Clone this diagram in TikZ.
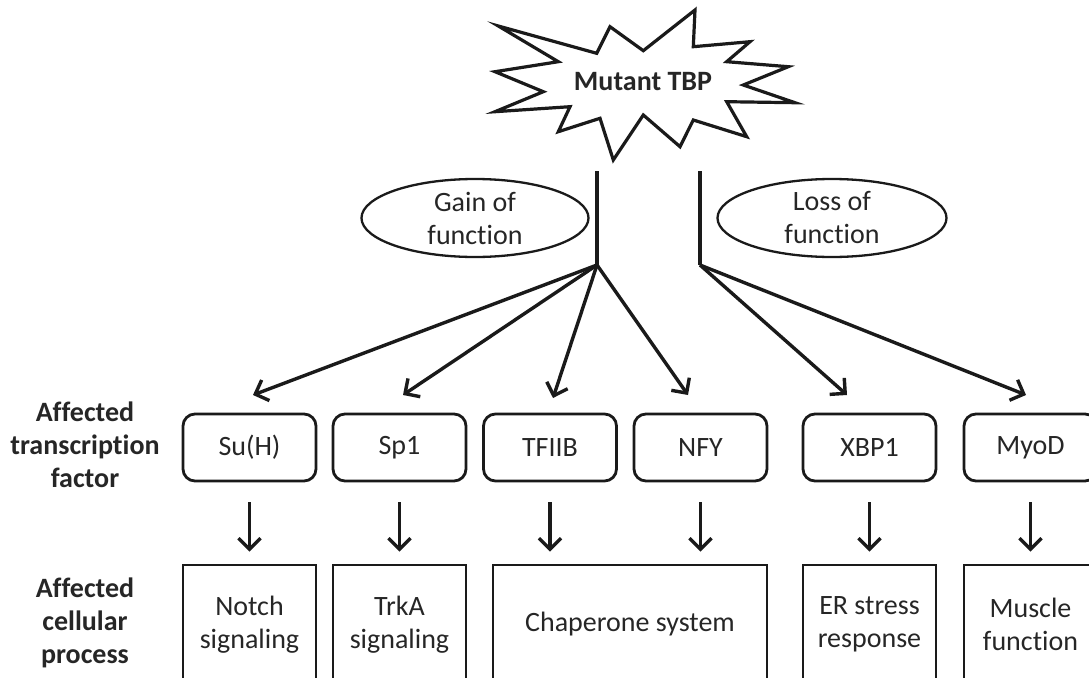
\documentclass[tikz,border=0pt]{standalone}
\usepackage{fontspec}
\setmainfont{Carlito}[Ligatures=NoCommon,RawFeature={-liga;-calt;-clig}]
\usetikzlibrary{arrows.meta,shapes.geometric}
\definecolor{ln}{HTML}{1A1A1A}
\definecolor{txt}{HTML}{262626}
\begin{document}
\begin{tikzpicture}[x=1pt,y=-1pt,
  every node/.style={font=\fontsize{28}{33}\selectfont, text=txt, align=center},
  tf/.style={draw=ln, line width=2.8pt, rounded corners=12pt, minimum width=133pt, minimum height=67pt, inner sep=0pt},
  proc/.style={draw=ln, line width=2.8pt, minimum height=119pt, inner sep=0pt},
  oval/.style={draw=ln, line width=2.3pt, ellipse, inner sep=0pt},
  lbl/.style={font=\fontsize{28}{33}\selectfont\bfseries},
  stem/.style={draw=ln, line width=3.4pt},
  arr/.style={draw=ln, line width=3.4pt, -{Straight Barb[length=11pt,width=22pt]}}
]
\useasboundingbox (0,0) rectangle (1089,677);
% star
\draw[draw=ln, line width=3.2pt, line join=miter, fill=white]
 (498.3,26) -- (596.7,53.3) -- (610,26.7) -- (643.3,50.7) -- (695,10) -- (693.3,46.7)
 -- (750,41.7) -- (726.7,61.7) -- (788.3,66.7) -- (743.3,85) -- (795,102.7) -- (726.7,101.7)
 -- (746.7,136.7) -- (693.3,120) -- (680,146.7) -- (643.3,115) -- (613.3,160) -- (600,118.3)
 -- (558.3,131.7) -- (570,106.7) -- (495,111.7) -- (543.3,91.7) -- (495,71.7) -- (558.3,61.7) -- cycle;
\node[lbl] (tbp) at (643,82) {Mutant TBP};
% ellipses
\node[oval, minimum width=227pt, minimum height=78pt] (gain) at (475,218) {};
\node at (gain.center) {Gain of\\function};
\node[oval, minimum width=229pt, minimum height=78pt] (loss) at (832,218) {};
\node at (loss.center) {Loss of\\function};
% stems
\coordinate (gtop) at (597,171);
\coordinate (gfan) at (597,265);
\coordinate (ltop) at (700,171);
\coordinate (lfan) at (700,265);
\draw[stem] (gtop) -- (gfan);
\draw[stem] (ltop) -- (lfan);
% tips
\coordinate (t1) at (253,395);
\coordinate (t2) at (403,395);
\coordinate (t3) at (553,398);
\coordinate (t4) at (688,395);
\coordinate (t5) at (847,395);
\coordinate (t6) at (1026,395);
\draw[arr] (gfan) -- (t1);
\draw[arr] (gfan) -- (t2);
\draw[arr] (gfan) -- (t3);
\draw[arr] (gfan) -- (t4);
\draw[arr] (lfan) -- (t5);
\draw[arr] (lfan) -- (t6);
% row labels
\node[lbl] (lab1) at (85,445) {Affected\\transcription\\factor};
\node[lbl] (lab2) at (85,623) {Affected\\cellular\\process};
% transcription factors
\node[tf] (suh) at (249.5,447.5) {Su(H)};
\node[tf] (sp1) at (399.5,447.5) {Sp1};
\node[tf] (tfiib) at (550,447.5) {TFIIB};
\node[tf] (nfy) at (700.5,447.5) {NFY};
\node[tf] (xbp1) at (869.5,447.5) {XBP1};
\node[tf] (myod) at (1030.5,447.5) {MyoD};
% processes
\node[proc, minimum width=133pt] (notch) at (249.5,624.5) {Notch\\signaling};
\node[proc, minimum width=133pt] (trka) at (399.5,624.5) {TrkA\\signaling};
\node[proc, minimum width=274pt] (chap) at (630,624.5) {Chaperone system};
\node[proc, minimum width=133pt] (er) at (869.5,624.5) {ER stress\\response};
\node[proc, minimum width=133pt] (mus) at (1030.5,624.5) {Muscle\\function};
% vertical arrows
\draw[arr, shorten <=20pt, shorten >=12pt] (suh.south) -- (notch.north);
\draw[arr, shorten <=20pt, shorten >=12pt] (sp1.south) -- (trka.north);
\draw[arr, shorten <=20pt, shorten >=12pt] (tfiib.south) -- (tfiib.south |- chap.north);
\draw[arr, shorten <=20pt, shorten >=12pt] (nfy.south) -- (nfy.south |- chap.north);
\draw[arr, shorten <=20pt, shorten >=12pt] (xbp1.south) -- (er.north);
\draw[arr, shorten <=20pt, shorten >=12pt] (myod.south) -- (mus.north);
\end{tikzpicture}
\end{document}
